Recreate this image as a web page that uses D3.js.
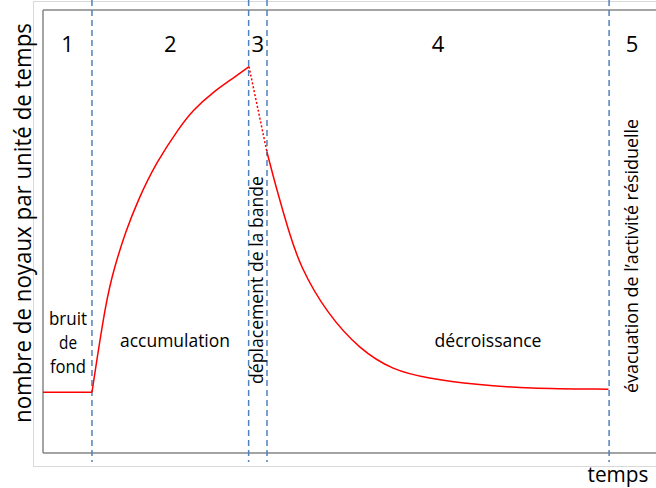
<!DOCTYPE html>
<html>
<head>
  <meta charset="utf-8" />
  <script src="https://d3js.org/d3.v7.min.js"></script>
  <style>
  body { margin: 0; background: #fff; }
  text { font-family: "Open Sans", "Noto Sans", sans-serif; fill: #000; }
  </style>
</head>
<body>
<script>
// phase boundaries (temps units)
var bounds = [8.0, 33.6, 36.6, 92.5];
var phaseNums = ["1", "2", "3", "4", "5"];

// background noise
var noiseT = [0, 8.0];
var noiseV = [13.7, 13.7];
// accumulation
var riseT = [8.0, 10.29, 11.72, 13.4, 15.52, 18.46, 22.39, 24.51, 27.61, 31.37, 33.66];
var riseV = [13.7, 34.5, 42.1, 49.6, 57.1, 65.5, 73.7, 77.4, 81.3, 84.9, 87.2];
// band displacement (dotted)
var moveT = [33.66, 36.6];
var moveV = [87.2, 67.9];
// decay
var decayT = [36.6, 38.2, 40.1, 42.0, 46.4, 51.8, 57.2, 62.7, 70.9, 79.0, 92.4];
var decayV = [67.9, 59.4, 50.3, 42.1, 31.5, 23.3, 18.7, 16.9, 15.4, 14.6, 14.4];

var W = 656, H = 488;
var margin = {left: 43, right: 1, top: 10, bottom: 35};

var svg = d3.select("body").append("svg")
  .attr("width", W)
  .attr("height", H);

var x = d3.scaleLinear().domain([0, 100]).range([margin.left, W - margin.right]);
var y = d3.scaleLinear().domain([0, 100]).range([H - margin.bottom, margin.top]);

// outer chart frame
svg.append("rect")
  .attr("x", 33.5).attr("y", 1.5)
  .attr("width", 640).attr("height", 465)
  .attr("fill", "none").attr("stroke", "#d9d9d9");

// plot area lines
var g = svg.append("g").attr("stroke", "#868686").attr("stroke-width", 1.5).attr("fill", "none");
g.append("line").attr("x1", x(0)).attr("x2", x(0)).attr("y1", y(100)).attr("y2", y(0));
g.append("line").attr("x1", x(0)).attr("x2", W).attr("y1", y(100)).attr("y2", y(100));
g.append("line").attr("x1", x(0)).attr("x2", W).attr("y1", y(0)).attr("y2", y(0));

// dashed phase separators
svg.selectAll(".sep").data(bounds).enter().append("line")
  .attr("x1", d => x(d)).attr("x2", d => x(d))
  .attr("y1", 0).attr("y2", y(0) + 9)
  .attr("stroke", "#4f81bd").attr("stroke-width", 1.5)
  .attr("stroke-dasharray", "6,4");

var straight = d3.line().x(d => x(d[0])).y(d => y(d[1]));
var smooth = d3.line().x(d => x(d[0])).y(d => y(d[1])).curve(d3.curveBasis);

function curve(ts, vs, gen, dash) {
  svg.append("path").datum(d3.zip(ts, vs))
    .attr("d", gen).attr("fill", "none")
    .attr("stroke", "red").attr("stroke-width", 1.5)
    .attr("stroke-dasharray", dash || null);
}
curve(noiseT, noiseV, straight);
curve(riseT, riseV, smooth);
curve(moveT, moveV, straight, "2,2");
curve(decayT, decayV, smooth);

// phase numbers centred in each interval
var edges = [0].concat(bounds).concat([100]);
svg.selectAll(".num").data(phaseNums).enter().append("text")
  .attr("x", (d, i) => x((edges[i] + edges[i + 1]) / 2))
  .attr("y", 52)
  .attr("text-anchor", "middle")
  .attr("font-size", 22)
  .text(d => d);

function label(txt, cx, cy, size, len, rot) {
  var t = svg.append("text")
    .attr("text-anchor", "middle")
    .attr("font-size", size)
    .attr("textLength", len)
    .attr("lengthAdjust", "spacingAndGlyphs")
    .text(txt);
  if (rot) t.attr("transform", "translate(" + cx + "," + cy + ") rotate(-90)");
  else t.attr("x", cx).attr("y", cy);
  return t;
}

label("bruit", 68, 325, 18, 38);
label("de", 68, 349, 18, 18);
label("fond", 68, 373, 18, 36);
label("accumulation", 175, 347, 18, 110);
label("décroissance", 488, 347, 18, 107);
label("déplacement de la bande", 263, 280, 18, 208, true);
label("évacuation de l\u2019activité résiduelle", 638, 256, 18, 274, true);

label("nombre de noyaux par unité de temps", 31, 223, 23, 400, true);
label("temps", 618, 482, 22, 61);
</script>
</body>
</html>
